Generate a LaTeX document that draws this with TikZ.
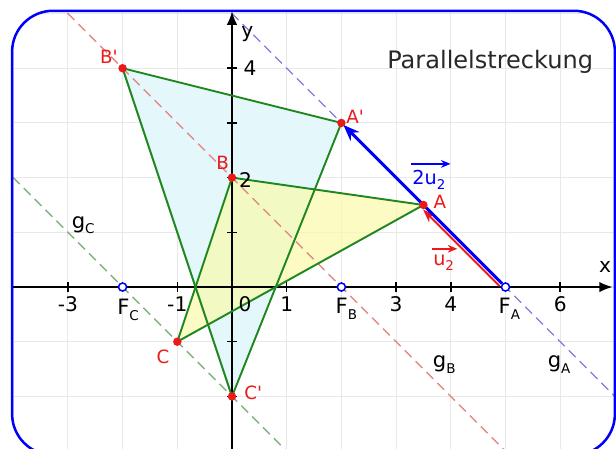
\documentclass[tikz,border=0pt]{standalone}
\usepackage{fontspec}
\setmainfont{DejaVu Sans}
\usetikzlibrary{arrows.meta,positioning}
\definecolor{frameblue}{RGB}{0,0,250}
\definecolor{ptred}{RGB}{235,25,25}
\definecolor{edgegreen}{RGB}{30,135,30}
\definecolor{fillcyan}{RGB}{228,248,252}
\definecolor{fillyellow}{RGB}{250,250,170}
\definecolor{gAcol}{RGB}{125,125,225}
\definecolor{gBcol}{RGB}{228,138,138}
\definecolor{gCcol}{RGB}{130,178,130}
\definecolor{gridgray}{RGB}{232,232,232}
\definecolor{titlegray}{RGB}{40,40,40}
\newcommand{\subl}[1]{\raisebox{-0.5ex}{\scriptsize #1}}

\begin{document}
\begin{tikzpicture}[
  dot/.style={circle, fill=ptred, inner sep=0pt, minimum size=4.4pt},
  foot/.style={circle, draw=frameblue, fill=white, line width=0.8pt, inner sep=0pt, minimum size=4.2pt},
  ptlabel/.style={text=ptred, font=\fontsize{9.5}{11}\selectfont, inner sep=1pt},
  ticklabel/.style={font=\fontsize{10.5}{12}\selectfont, inner sep=1pt},
  linelabel/.style={font=\fontsize{11}{13}\selectfont, inner sep=1pt},
  veclabel/.style={font=\fontsize{10}{12}\selectfont, inner sep=0.5pt},
  gline/.style={line width=0.7pt, dash pattern=on 5pt off 3pt},
  trisides/.style={edgegreen, line width=1pt, line join=round},
]
\useasboundingbox (-4.241,-2.943) rectangle (7.02,5.247);

\coordinate (A) at (3.5,1.5);
\coordinate (B) at (0,2);
\coordinate (C) at (-1,-1);
\coordinate (Ap) at (2,3);
\coordinate (Bp) at (-2,4);
\coordinate (Cp) at (0,-2);

\begin{scope}
  \clip[rounded corners=0.75cm] (-4.02,-3.07) rectangle (7,5.05);
  \fill[white] (-5,-4) rectangle (8,6);
  \draw[gridgray, line width=0.6pt] (-5,-4) grid (8,6);
  \fill[fillcyan] (Ap) -- (Bp) -- (Cp) -- cycle;
  \fill[fillyellow, fill opacity=0.7] (A) -- (B) -- (C) -- cycle;
  \draw[gline, gAcol] (-1,6) -- (8,-3);
  \draw[gline, gBcol] (-4,6) -- (5,-3);
  \draw[gline, gCcol] (-5,3) -- (2,-4);
  \draw[line width=1pt, -{Latex[length=7pt,width=5.5pt]}] (-4.3,0) -- (6.96,0);
  \draw[line width=1pt, -{Latex[length=7pt,width=5.5pt]}] (0,-3.3) -- (0,5.04);
  \foreach \x in {-3,-2,-1,1,2,3,4,5,6}
    \draw[line width=0.8pt] (\x,-0.09) -- (\x,0.09);
  \foreach \y in {-2,-1,1,2,3,4}
    \draw[line width=0.8pt] (-0.09,\y) -- (0.09,\y);
\end{scope}

\draw[trisides] (Ap) -- (Bp) -- (Cp) -- cycle;
\draw[trisides] (A) -- (B) -- (C) -- cycle;

\node[foot] (FA) at (5,0) {};
\node[foot] (FB) at (2,0) {};
\node[foot] (FC) at (-2,0) {};

\draw[ptred, line width=1pt, -{Stealth[length=7pt,width=5pt]}, shorten >=1.5pt,
  transform canvas={shift={(-0.045,-0.045)}}] (FA) -- (A);
\draw[frameblue, line width=1.6pt, -{Stealth[length=8.5pt,width=6.5pt]}, shorten >=1.5pt] (FA) -- (Ap);

\foreach \p in {A,B,C,Ap,Bp,Cp}
  \node[dot] (d\p) at (\p) {};

\node[ptlabel] (lA) at (3.8,1.55) {A};
\node[ptlabel] (lAp) at (2.25,3.12) {A\textquotesingle};
\node[ptlabel] (lB) at (-0.17,2.27) {B};
\node[ptlabel] (lBp) at (-2.25,4.2) {B\textquotesingle};
\node[ptlabel] (lC) at (-1.26,-1.28) {C};
\node[ptlabel] (lCp) at (0.39,-1.94) {C\textquotesingle};

\node[linelabel] (lFA) at (5.07,-0.4) {F\subl{A}};
\node[linelabel] (lFB) at (2.09,-0.4) {F\subl{B}};
\node[linelabel] (lFC) at (-1.9,-0.42) {F\subl{C}};
\node[linelabel] (lgA) at (5.98,-1.42) {g\subl{A}};
\node[linelabel] (lgB) at (3.88,-1.42) {g\subl{B}};
\node[linelabel] (lgC) at (-2.72,1.13) {g\subl{C}};

\node[veclabel, text=frameblue] (l2u) at (3.6,1.96) {2u\subl{2}};
\draw[frameblue, line width=0.9pt, -{Stealth[length=5pt,width=4pt]}]
  ([yshift=2.5pt]l2u.north west) -- ([xshift=2pt,yshift=2.5pt]l2u.north east);
\node[veclabel, text=ptred] (lu) at (3.87,0.44) {u\subl{2}};
\draw[ptred, line width=0.9pt, -{Stealth[length=5pt,width=4pt]}]
  ([yshift=2.5pt]lu.north west) -- ([xshift=1pt,yshift=2.5pt]lu.north east);

\foreach \x in {-3,-1,1,3,4,6}
  \node[ticklabel] (tx\x) at (\x,-0.32) {\x};
\node[ticklabel] (tx0) at (0.24,-0.32) {0};
\node[ticklabel] (ty4) at (0.33,4) {4};
\node[ticklabel] (ty2) at (0.25,1.95) {2};
\node[ticklabel] (lx) at (6.82,0.36) {x};
\node[ticklabel] (ly) at (0.28,4.62) {y};

\node[text=titlegray, font=\fontsize{12.5}{15}\selectfont] (title) at (4.72,4.12) {Parallelstreckung};

\draw[frameblue, line width=1.3pt, rounded corners=0.75cm] (-4.02,-3.07) rectangle (7,5.05);
\end{tikzpicture}
\end{document}
